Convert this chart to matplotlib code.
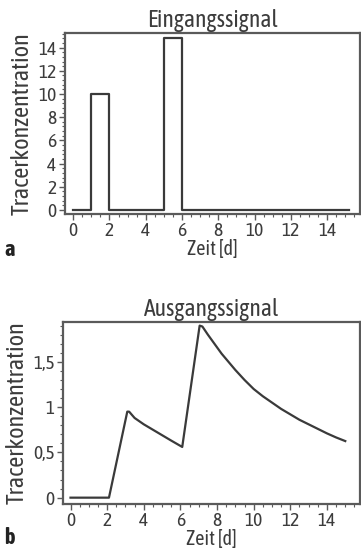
import matplotlib
matplotlib.use("Agg")
import matplotlib.pyplot as plt
from matplotlib.ticker import MultipleLocator, FuncFormatter
from matplotlib import font_manager

# ---- data ----
in_t = [0, 1, 2, 5, 6, 15.2]
in_c = [0, 10, 0, 14.8, 0, 0]

out_t = [0, 2.1, 3.1, 3.2, 3.5, 4.0, 4.5, 5.0, 5.5, 6.1, 7.05, 7.2, 7.5, 7.75, 8.0, 8.25,
         8.5, 9.0, 9.5, 10.0, 10.5, 11.0, 11.5, 12.0, 12.5, 13.0, 13.5, 14.0, 14.5, 15.0]
out_c = [0, 0, 0.95, 0.95, 0.88, 0.81, 0.75, 0.69, 0.63, 0.56, 1.90, 1.89, 1.80, 1.73, 1.66, 1.59,
         1.53, 1.41, 1.30, 1.20, 1.12, 1.05, 0.98, 0.92, 0.86, 0.81, 0.76, 0.71, 0.665, 0.625]

x_ticks = [0, 2, 4, 6, 8, 10, 12, 14]
top_yticks = [0, 2, 4, 6, 8, 10, 12, 14]
bot_yticks = [0, 0.5, 1, 1.5]

titles = ["Eingangssignal", "Ausgangssignal"]
xlabel = "Zeit [d]"
ylabel = "Tracerkonzentration"
panel = ["a", "b"]

names = {f.name for f in font_manager.fontManager.ttflist}
if "Asap Condensed" in names:
    plt.rcParams["font.family"] = ["Asap Condensed", "DejaVu Sans"]
else:
    plt.rcParams["font.family"] = ["DejaVu Sans"]
    plt.rcParams["font.stretch"] = "condensed"

txt = "#3c3c3c"
axc = "#5a5a5a"
linec = "#3a3a3a"

fig = plt.figure(figsize=(3.61, 5.60), dpi=100)
ax1 = fig.add_axes([0.180, 0.618, 0.817, 0.323])
ax2 = fig.add_axes([0.175, 0.100, 0.822, 0.325])

def style(ax):
    for s in ax.spines.values():
        s.set_color(axc)
        s.set_linewidth(1.6)
    ax.tick_params(which="major", direction="out", length=4, width=1.0, color=axc,
                   labelsize=14, labelcolor=txt, pad=2)
    ax.tick_params(which="minor", direction="out", length=2.5, width=0.8, color=axc)
    ax.set_xticks(x_ticks)
    ax.xaxis.set_minor_locator(MultipleLocator(0.5))
    ax.set_xlabel(xlabel, fontsize=14.5, color=txt, labelpad=-1)
    ax.set_ylabel(ylabel, fontsize=17.5, color=txt, labelpad=3)

ax1.step(in_t, in_c, where="post", color=linec, lw=1.6)
ax1.set_xlim(-0.45, 15.8)
ax1.set_ylim(-0.34, 15.26)
ax1.set_yticks(top_yticks)
ax1.yaxis.set_minor_locator(MultipleLocator(0.4))
style(ax1)
ax1.set_title(titles[0], fontsize=17, color=txt, pad=4)

ax2.plot(out_t, out_c, color=linec, lw=1.6)
ax2.set_xlim(-0.4, 15.8)
ax2.set_ylim(-0.07, 1.94)
ax2.set_yticks(bot_yticks)
ax2.yaxis.set_minor_locator(MultipleLocator(0.1))
ax2.yaxis.set_major_formatter(FuncFormatter(lambda v, p: ("%g" % v).replace(".", ",")))
style(ax2)
ax2.set_title(titles[1], fontsize=17, color=txt, pad=4)

fig.text(0.012, 0.553, panel[0], fontsize=16, fontweight="bold", color="#222222", va="center")
fig.text(0.012, 0.040, panel[1], fontsize=16, fontweight="bold", color="#222222", va="center")

fig.savefig("out.png", dpi=100)
